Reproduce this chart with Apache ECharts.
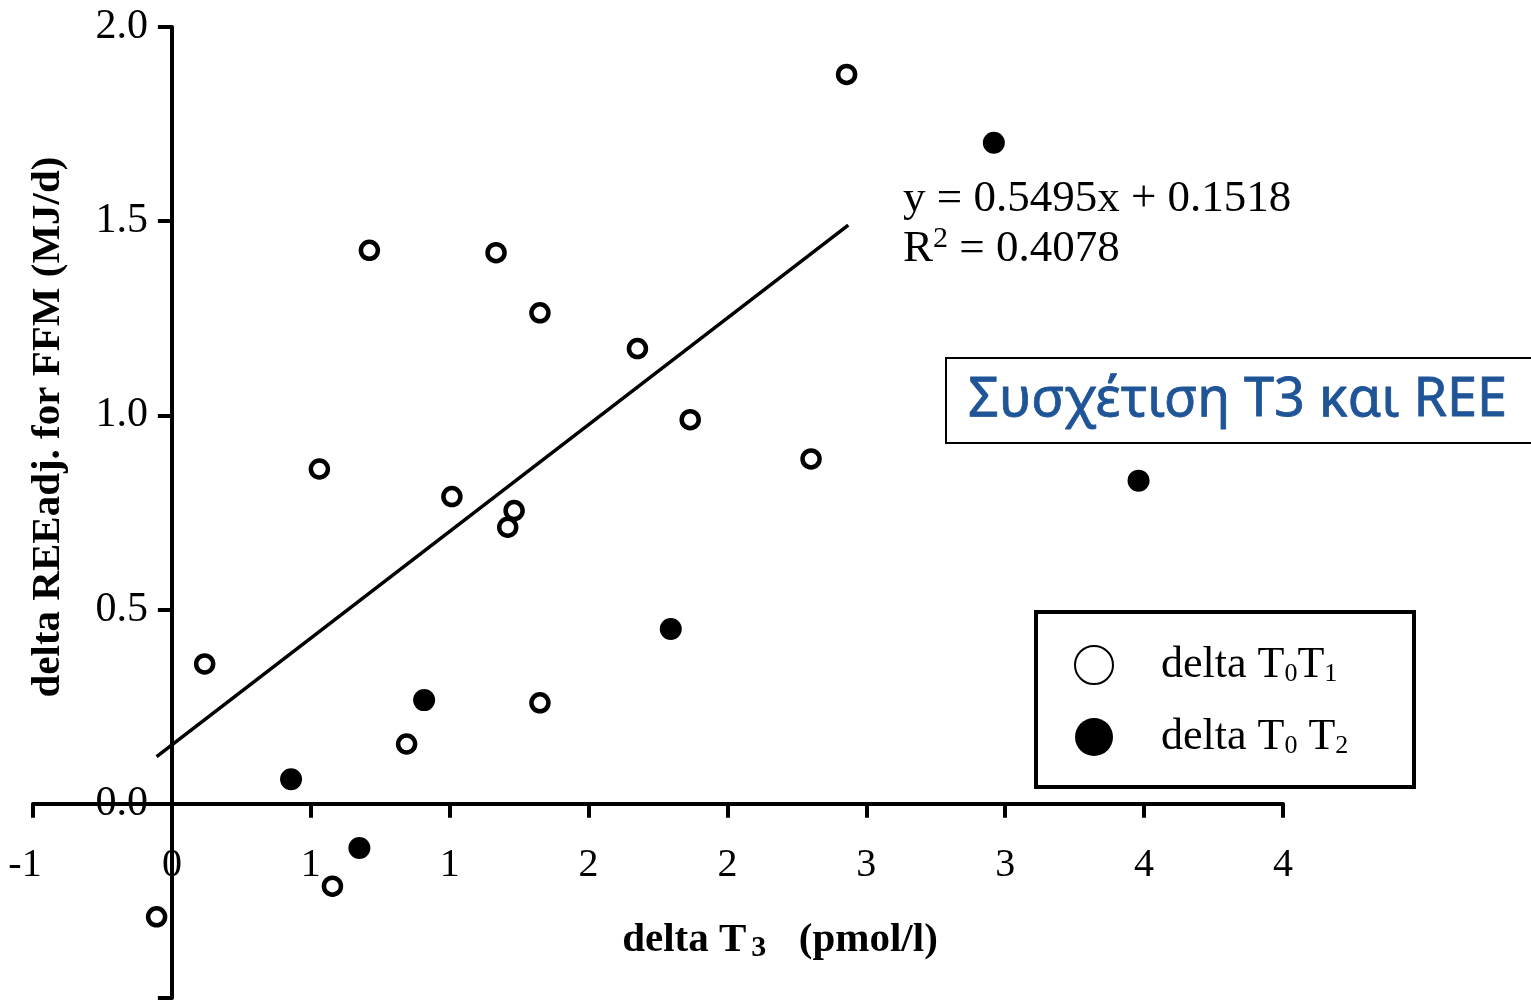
<!DOCTYPE html>
<html>
<head>
<meta charset="utf-8">
<script src="https://cdn.jsdelivr.net/npm/echarts@6/dist/echarts.min.js"></script>
<style>
html,body{margin:0;padding:0;background:#fff;}
#chart{width:1531px;height:1000px;}
</style>
</head>
<body>
<div id="chart"></div>
<script>
// ---- data ----
const openX = [2.429, 0.711, 1.167, 1.325, 1.676, 1.866, 0.531, 2.301, 1.008, 1.232, 1.209, 0.118, 1.325, 0.845, 0.578, -0.055];
const openY = [1.878, 1.425, 1.419, 1.264, 1.172, 0.989, 0.862, 0.888, 0.791, 0.755, 0.712, 0.360, 0.260, 0.154, -0.212, -0.291];
const filledX = [2.959, 3.480, 1.796, 0.908, 0.429, 0.675];
const filledY = [1.702, 0.832, 0.450, 0.267, 0.063, -0.114];

const xTickLabels = ['-1', '0', '1', '1', '2', '2', '3', '3', '4', '4'];
const yTickLabels = ['', '0.0', '0.5', '1.0', '1.5', '2.0'];

const fitSlope = 0.5495;
const fitIntercept = 0.1518;
const fitXRange = [-0.055, 2.435];

const seriesNames = ['delta T0T1', 'delta T0T2'];
const legendLabels = ['delta T{s|0}T{s|1}', 'delta T{s|0} T{s|2}'];
const eqLine1 = 'y = 0.5495x + 0.1518';
const eqLine2 = '{n|R}{s|2}{n| = 0.4078}';
const boxTitle = 'Συσχέτιση T3 και REE';
const yTitle = 'delta REEadj. for FFM (MJ/d)';
const xTitle = '{b|delta T}{s|3}{b|  (pmol/l)}';

// ---- axis ranges ----
const xMin = -0.5, xMax = 4, xStep = 0.5;
const yMin = -0.5, yMax = 2, yStep = 0.5;

// ---- layout ----
const W = 1531, H = 1000;
const G = { left: 33, right: 248, top: 27, bottom: 2 };
const plotW = W - G.left - G.right, plotH = H - G.top - G.bottom;
// shift axes so that they cross at the origin (0,0)
const yAxisShift = (0 - xMin) / (xMax - xMin) * plotW;
const xAxisShift = (0 - yMin) / (yMax - yMin) * plotH;

const SERIF = '"Liberation Serif", "Times New Roman", serif';
const chart = echarts.init(document.getElementById('chart'));

const option = {
  backgroundColor: '#fff',
  animation: false,
  grid: { left: G.left, right: G.right, top: G.top, bottom: G.bottom, containLabel: false, outerBoundsMode: 'none' },
  xAxis: {
    type: 'value', min: xMin, max: xMax, interval: xStep,
    position: 'bottom', offset: -xAxisShift,
    axisLine: { onZero: false, lineStyle: { color: '#000', width: 4 } },
    axisTick: { show: true, length: 14, lineStyle: { color: '#000', width: 4 } },
    axisLabel: {
      color: '#000', fontFamily: SERIF, fontSize: 40, margin: 42,
      showMinLabel: true, showMaxLabel: true,
      formatter: v => {
        const t = xTickLabels[Math.round((v - xMin) / xStep)];
        return t.charAt(0) === '-' ? '{neg|' + t + '}' : t;
      },
      rich: { neg: { fontFamily: SERIF, fontSize: 40, color: '#000', padding: [0, 16, 0, 0] } }
    },
    splitLine: { show: false }
  },
  yAxis: {
    type: 'value', min: yMin, max: yMax, interval: yStep,
    position: 'left', offset: -yAxisShift,
    axisLine: { onZero: false, lineStyle: { color: '#000', width: 4 } },
    axisTick: { show: true, length: 14, lineStyle: { color: '#000', width: 4 } },
    axisLabel: {
      color: '#000', fontFamily: SERIF, fontSize: 42, margin: 24,
      showMinLabel: true, showMaxLabel: true,
      formatter: v => yTickLabels[Math.round((v - yMin) / yStep)]
    },
    splitLine: { show: false }
  },
  legend: {
    orient: 'vertical', left: 1069, top: 638,
    itemWidth: 38, itemHeight: 38, itemGap: 28, icon: 'circle',
    data: seriesNames,
    formatter: name => legendLabels[seriesNames.indexOf(name)],
    textStyle: {
      color: '#000', fontFamily: SERIF, fontSize: 44, padding: [0, 0, 0, 43],
      rich: { s: { fontFamily: SERIF, fontSize: 26, lineHeight: 26, verticalAlign: 'bottom', color: '#000' } }
    }
  },
  series: [
    {
      name: 'fit', type: 'line', silent: true, showSymbol: false, z: 2,
      data: fitXRange.map(x => [x, fitSlope * x + fitIntercept]),
      lineStyle: { color: '#000', width: 3.5 }
    },
    {
      name: seriesNames[0], type: 'scatter', symbol: 'circle', symbolSize: 17, z: 3,
      data: openX.map((x, i) => [x, openY[i]]),
      itemStyle: { color: '#fff', borderColor: '#000', borderWidth: 4.5, opacity: 1 }
    },
    {
      name: seriesNames[1], type: 'scatter', symbol: 'circle', symbolSize: 22, z: 3,
      data: filledX.map((x, i) => [x, filledY[i]]),
      itemStyle: { color: '#000', opacity: 1 }
    }
  ],
  graphic: [
    { type: 'rect', z: 1, shape: { x: 1036, y: 612, width: 378, height: 175 },
      style: { fill: 'none', stroke: '#000', lineWidth: 4 } },
    { type: 'rect', z: 1, shape: { x: 946, y: 358, width: 620, height: 85 },
      style: { fill: '#fff', stroke: '#000', lineWidth: 2 } },
    { type: 'text', z: 5, x: 968, y: 401,
      style: { text: boxTitle, fill: '#1F5597', font: '54px "Noto Sans", sans-serif', align: 'left', verticalAlign: 'middle',
        stroke: '#1F5597', lineWidth: 0.8 } },
    { type: 'text', z: 5, x: 903, y: 199,
      style: { text: eqLine1, fill: '#000', font: '45px ' + SERIF, align: 'left', verticalAlign: 'middle' } },
    { type: 'text', z: 5, x: 903, y: 249,
      style: { text: eqLine2, fill: '#000', align: 'left', verticalAlign: 'middle',
        rich: { n: { fontFamily: SERIF, fontSize: 45, lineHeight: 50 }, s: { fontFamily: SERIF, fontSize: 30, lineHeight: 36, verticalAlign: 'top' } } } },
    { type: 'text', z: 5, x: 48, y: 427, rotation: Math.PI / 2,
      style: { text: yTitle, fill: '#000', font: 'bold 41px ' + SERIF, align: 'center', verticalAlign: 'middle' } },
    { type: 'text', z: 5, x: 780, y: 940,
      style: { text: xTitle, fill: '#000', align: 'center', verticalAlign: 'middle',
        rich: { b: { fontFamily: SERIF, fontWeight: 'bold', fontSize: 41, lineHeight: 46 },
                s: { fontFamily: SERIF, fontWeight: 'bold', fontSize: 30, lineHeight: 30, verticalAlign: 'bottom', padding: [0, 12, 0, 5] } } } }
  ]
};
chart.setOption(option);
</script>
</body>
</html>
